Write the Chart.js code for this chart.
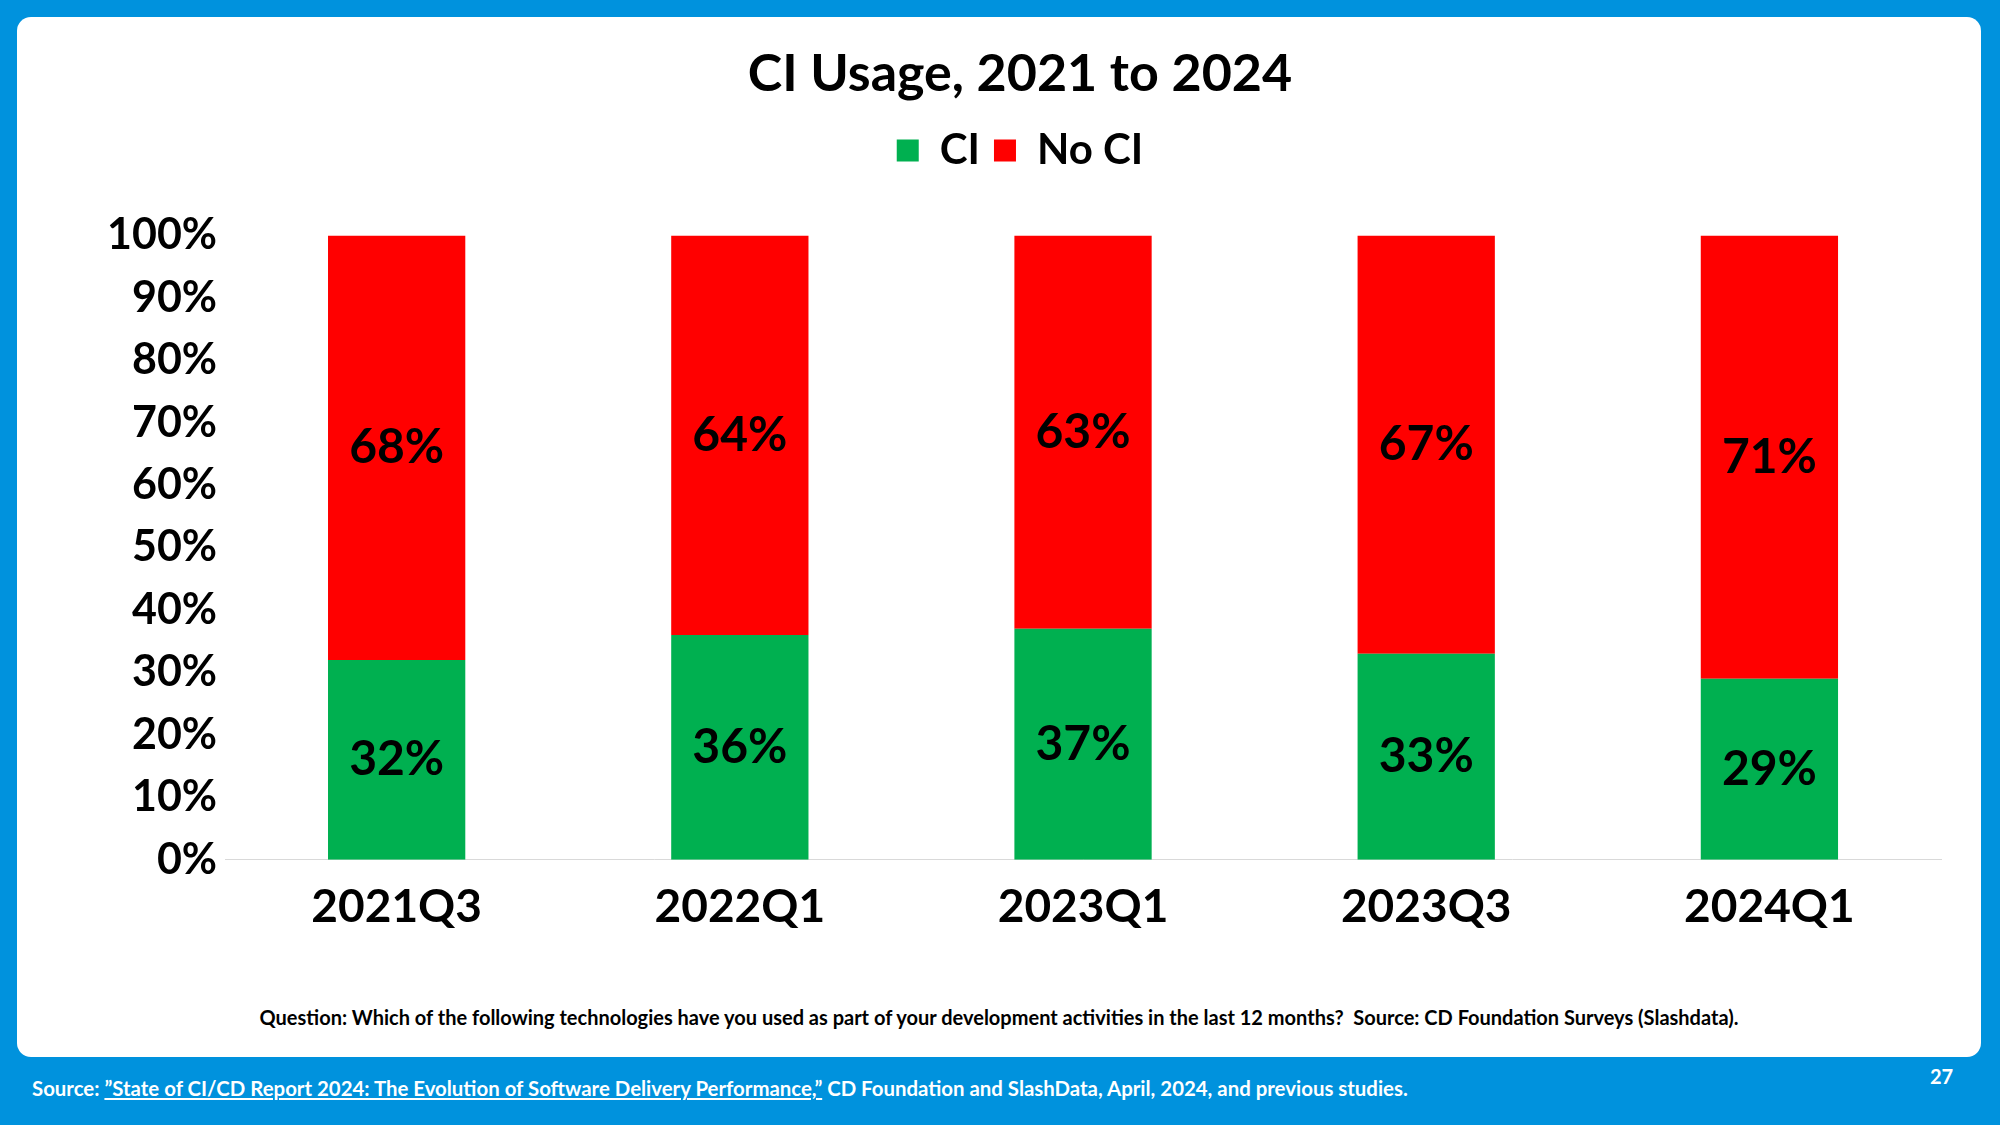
<!DOCTYPE html>
<html><head><meta charset="utf-8">
<script src="https://cdn.jsdelivr.net/npm/chart.js@4"></script>
<style>
html,body{margin:0;padding:0;width:2000px;height:1125px;background:#0092DD;overflow:hidden;font-family:Lato,"Open Sans",sans-serif}
#panel{position:absolute;left:17px;top:17px;width:1964px;height:1040px;background:#fff;border-radius:14px}
#wrap{position:absolute;left:0;top:0;width:1964px;height:960px}
#q{position:absolute;left:0;width:1964px;top:988px;text-align:center;font-size:20px;font-weight:bold;color:#000}
#src{position:absolute;left:32px;top:1076px;font-size:20.4px;font-weight:bold;color:#fff}
#src u{text-decoration:underline}
#pg{position:absolute;left:1930px;top:1064px;font-size:20px;font-weight:bold;color:#fff}
</style></head><body>
<div id="panel"><div id="wrap"><canvas id="c"></canvas></div>
<div id="q">Question: Which of the following technologies have you used as part of your development activities in the last 12 months?&nbsp; Source: CD Foundation Surveys (Slashdata).</div></div>
<div id="src">Source: <u>”State of CI/CD Report 2024: The Evolution of Software Delivery Performance,”</u> CD Foundation and SlashData, April, 2024, and previous studies.</div>
<div id="pg">27</div>
<script>
const categories=["2021Q3","2022Q1","2023Q1","2023Q3","2024Q1"];
const ciValues=[32,36,37,33,29];
const noCiValues=[68,64,63,67,71];
const yTicks=[0,10,20,30,40,50,60,70,80,90,100];
const labelPlugin={id:'lbl',afterDatasetsDraw(chart){const ctx=chart.ctx;ctx.save();ctx.font='bold 48px Lato';ctx.fillStyle='#000';ctx.textAlign='center';ctx.textBaseline='middle';
chart.data.datasets.forEach((ds,i)=>{chart.getDatasetMeta(i).data.forEach((b,j)=>{ctx.fillText(ds.data[j]+'%',b.x,(b.y+b.base)/2);});});ctx.restore();}};
const legendGap={id:'lgap',beforeInit(chart){const f=chart.legend.fit;chart.legend.fit=function(){f.bind(chart.legend)();this.height+=54;};}};
new Chart(document.getElementById('c'),{type:'bar',
data:{labels:categories,datasets:[
{label:'CI',data:ciValues,backgroundColor:'#00B050',barPercentage:0.8,categoryPercentage:0.5},
{label:'No CI',data:noCiValues,backgroundColor:'#FF0000',barPercentage:0.8,categoryPercentage:0.5}]},
options:{responsive:true,maintainAspectRatio:false,animation:false,
layout:{padding:{left:82,right:40,top:26,bottom:22}},
plugins:{title:{display:true,text:'CI Usage, 2021 to 2024',color:'#000',font:{family:'Lato',size:52,weight:'bold'},padding:{top:0,bottom:10}},
legend:{labels:{color:'#000',font:{family:'Lato',size:42,weight:'bold'},boxWidth:22,boxHeight:22,padding:14},padding:0},tooltip:{enabled:false}},
scales:{x:{stacked:true,grid:{display:false,drawTicks:false},border:{color:'#d9d9d9'},ticks:{color:'#000',padding:20,font:{family:'Lato',size:46,weight:'bold'}}},
y:{stacked:true,min:0,max:100,afterBuildTicks(a){a.ticks=yTicks.map(v=>({value:v}));},grid:{display:false,drawTicks:false},border:{display:false},
ticks:{color:'#000',padding:8,font:{family:'Lato',size:43,weight:'bold'},callback:v=>v+'%'}}}},
plugins:[labelPlugin,legendGap]});
</script></body></html>
